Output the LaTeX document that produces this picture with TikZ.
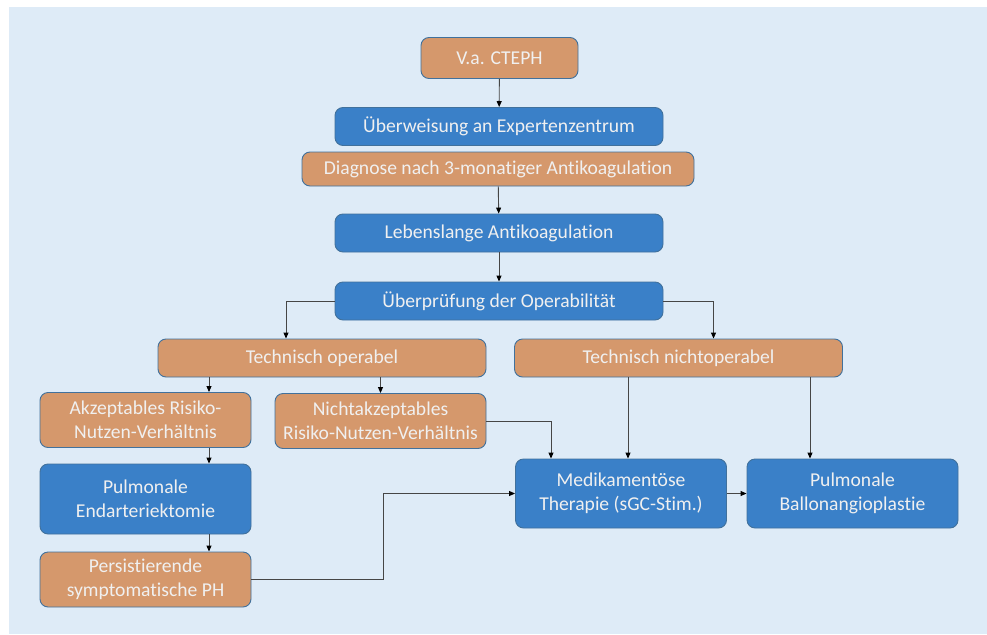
\documentclass[tikz,border=0pt]{standalone}
\usepackage{fontspec}
\setmainfont{Carlito}[RawFeature=-liga]
\usetikzlibrary{arrows.meta,positioning}
\definecolor{sky}{RGB}{222,235,247}
\definecolor{steel}{RGB}{58,128,200}
\definecolor{clay}{RGB}{213,152,108}
\definecolor{rim}{RGB}{65,113,156}
\definecolor{pale}{RGB}{240,240,240}
\definecolor{ink}{RGB}{70,70,70}
\tikzset{
  >={Triangle[length=6pt,width=5pt,black]},
  card/.style={draw=rim,fill=#1,rounded corners=8pt,line width=0.9pt,text=pale,
    align=center,inner sep=0pt,font=\fontsize{19.6}{23.5}\selectfont},
  card/.default=clay,
  wide/.style={minimum width=328pt,minimum height=38pt},
  half/.style={minimum width=211pt,minimum height=55pt},
  flow/.style={->,line width=0.9pt,draw=ink},
}
\begin{document}
\begin{tikzpicture}[x=1pt,y=-1pt]
  \useasboundingbox (0,0) rectangle (987,634);
  \fill[sky] (9,7) rectangle (987,634);
  % trunk
  \node[card=clay,minimum width=157pt,minimum height=41pt] (va) at (499.5,58) {V.a. CTEPH};
  \node[card=steel,wide] (refer) at (499,126.5) {Überweisung an Expertenzentrum};
  \node[card=clay,minimum width=392pt,minimum height=34pt] (diag) at (498,169) {Diagnose nach 3-monatiger Antikoagulation};
  \node[card=steel,wide] (anticoag) at (499,233) {Lebenslange Antikoagulation};
  \node[card=steel,wide] (check) at (499,301) {Überprüfung der Operabilität};
  % branches
  \node[card=clay,wide] (oper) at (322,358) {Technisch operabel};
  \node[card=clay,wide] (inoper) at (678.5,358) {Technisch nichtoperabel};
  \node[card=clay,half] (accept) at (145.5,420) {Akzeptables Risiko-\\Nutzen-Verhältnis};
  \node[card=clay,half] (reject) at (380.5,421) {Nichtakzeptables\\Risiko-Nutzen-Verhältnis};
  \node[card=steel,half,minimum height=70pt] (pea) at (145.5,499) {Pulmonale\\Endarteriektomie};
  \node[card=clay,half] (persist) at (145.5,579.5) {Persistierende\\symptomatische PH};
  \node[card=steel,half,minimum height=69pt] (drug) at (621,493.5) {Medikamentöse\\Therapie (sGC-Stim.)};
  \node[card=steel,half,minimum height=69pt] (bpa) at (852.5,493.5) {Pulmonale\\Ballonangioplastie};
  % arrows
  \draw[flow] (va) -- (refer);
  \draw[flow] (diag) -- (anticoag);
  \draw[flow] (anticoag) -- (check);
  \draw[flow] (check.west) -| ([xshift=-36pt]oper.north);
  \draw[flow] (check.east) -| ([xshift=35pt]inoper.north);
  \draw[flow] ([xshift=63.5pt]accept.north |- oper.south) -- ([xshift=63.5pt]accept.north);
  \draw[flow] (reject.north |- oper.south) -- (reject.north);
  \draw[flow] ([xshift=7pt]drug.north |- inoper.south) -- ([xshift=7pt]drug.north);
  \draw[flow] ([xshift=-42.5pt]bpa.north |- inoper.south) -- ([xshift=-42.5pt]bpa.north);
  \draw[flow] (reject.east) -| ([xshift=-70pt]drug.north);
  \draw[flow] ([xshift=63.5pt]accept.south) -- ([xshift=63.5pt]pea.north);
  \draw[flow] ([xshift=63.5pt]pea.south) -- ([xshift=63.5pt]persist.north);
  \draw[flow] (persist.east) -- ++(132pt,0) |- (drug.west);
  \draw[flow] (drug) -- (bpa);
\end{tikzpicture}
\end{document}
